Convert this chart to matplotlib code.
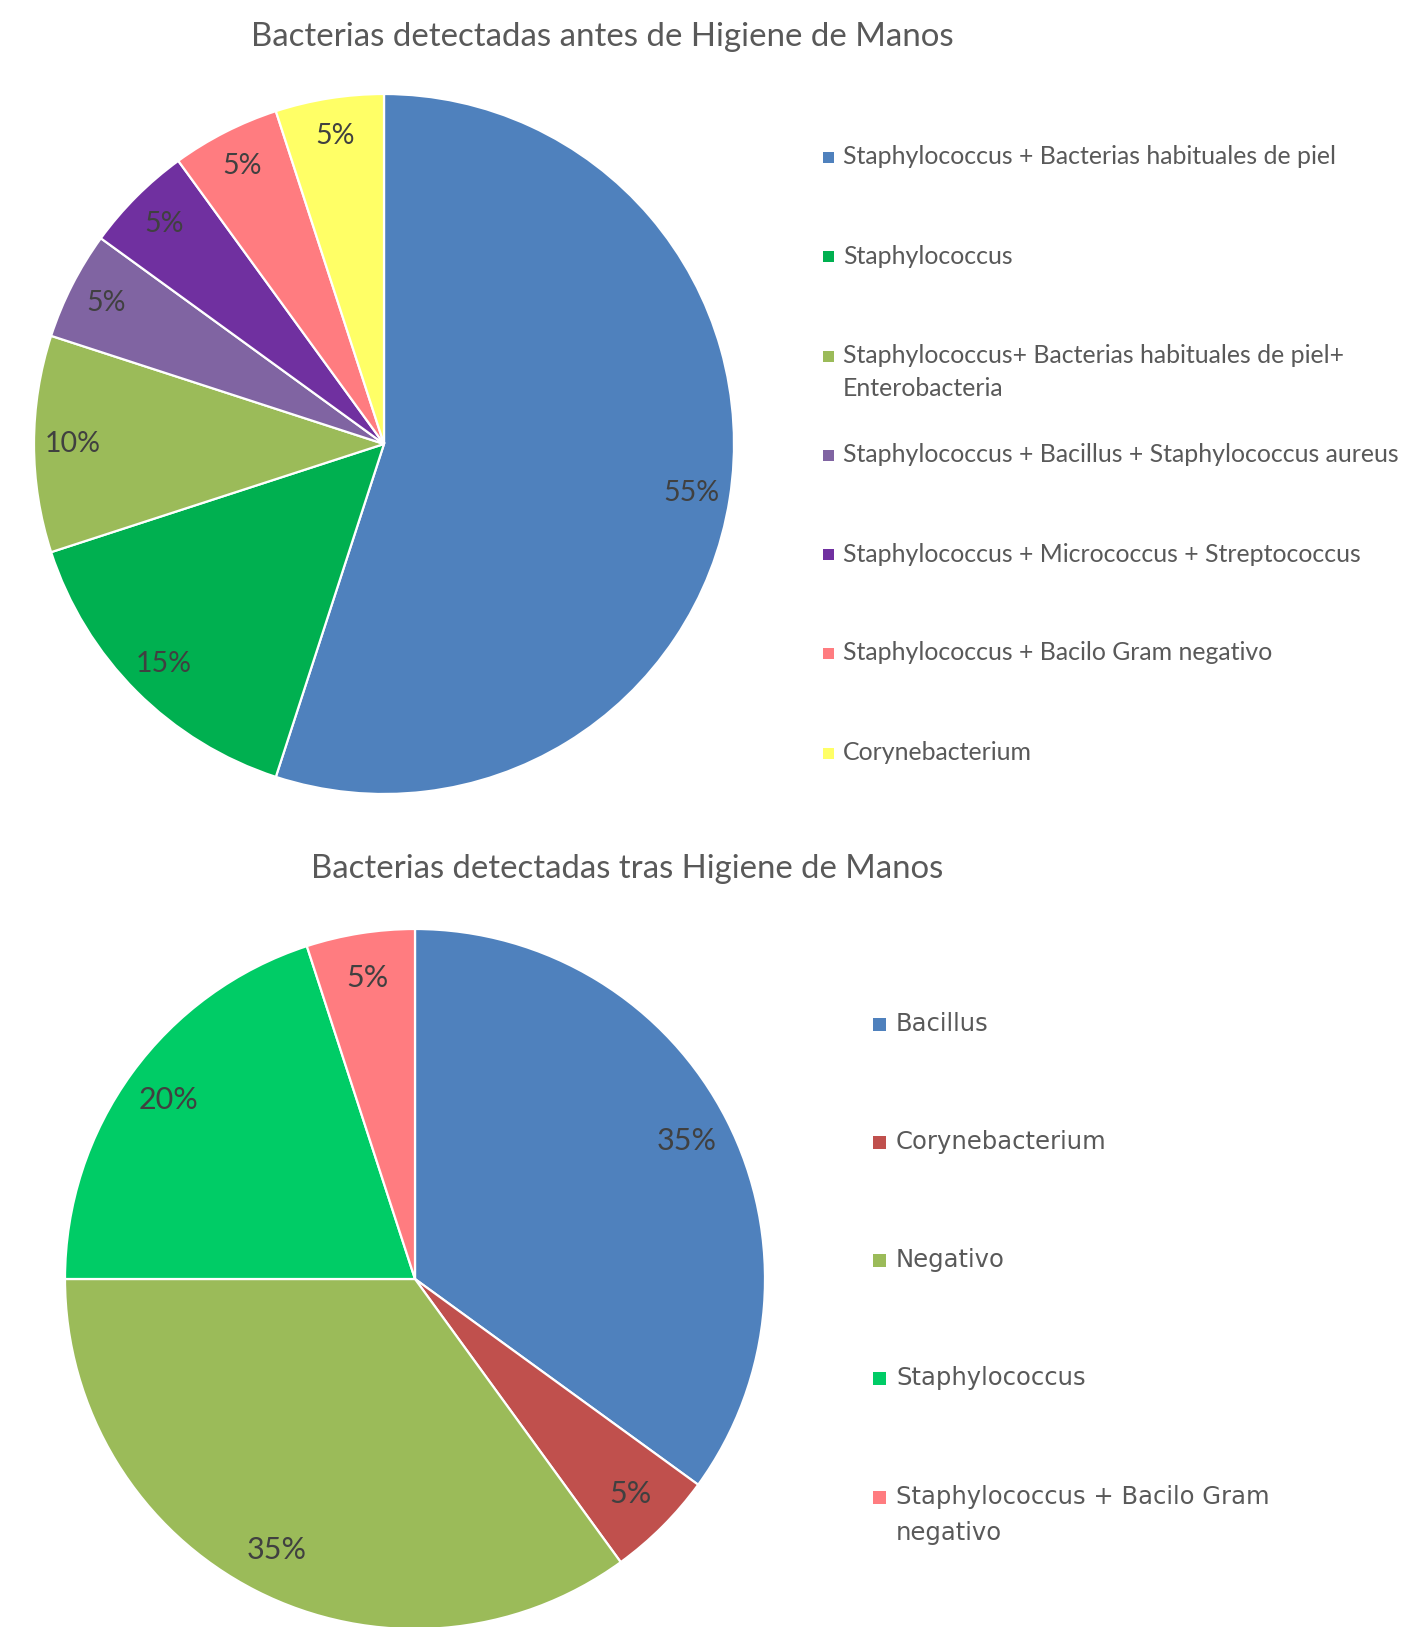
import matplotlib
matplotlib.use("Agg")
import matplotlib.pyplot as plt
from matplotlib.patches import Rectangle

# ---------------- data ----------------
title_top = "Bacterias detectadas antes de Higiene de Manos"
labels_top = [
    "Staphylococcus + Bacterias habituales de piel",
    "Staphylococcus",
    "Staphylococcus+ Bacterias habituales de piel+\nEnterobacteria",
    "Staphylococcus + Bacillus + Staphylococcus aureus",
    "Staphylococcus + Micrococcus + Streptococcus",
    "Staphylococcus + Bacilo Gram negativo",
    "Corynebacterium",
]
values_top = [55, 15, 10, 5, 5, 5, 5]
colors_top = ["#4F81BD", "#00B050", "#9BBB59", "#8064A2", "#7030A0", "#FF7C80", "#FFFF66"]

title_bot = "Bacterias detectadas tras Higiene de Manos"
labels_bot = [
    "Bacillus",
    "Corynebacterium",
    "Negativo",
    "Staphylococcus",
    "Staphylococcus + Bacilo Gram\nnegativo",
]
values_bot = [35, 5, 35, 20, 5]
colors_bot = ["#4F81BD", "#C0504D", "#9BBB59", "#00CC66", "#FF7C80"]

# ---------------- figure ----------------
W, H = 1420, 1627
DPI = 100
fig = plt.figure(figsize=(W / DPI, H / DPI), dpi=DPI)
fig.patch.set_facecolor("white")
renderer = fig.canvas.get_renderer()

TXT = "#595959"
PCT = "#404040"
CAL = ["Lato", "DejaVu Sans"]
VER = ["DejaVu Sans"]


def fx(x):
    return x / W


def fy(y):
    return 1 - y / H


def fit_text(x, y, s, target_w, family, color, ha="left", va="center", linespacing=1.2):
    t = fig.text(fx(x), fy(y), s, ha=ha, va=va, color=color, family=family,
                 fontsize=20, linespacing=linespacing)
    first = s.split("\n")[0]
    probe = fig.text(0, 0, first, family=family, fontsize=20)
    w = probe.get_window_extent(renderer=renderer).width
    probe.remove()
    t.set_fontsize(20 * target_w / w)
    return t


def draw_pie(cx, cy, r, values, colors, pctdist, pct_size):
    ax = fig.add_axes([fx(cx - r), fy(cy + r), 2 * r / W, 2 * r / H])
    ax.pie(values, colors=colors, startangle=90, counterclock=False, radius=1.0,
           autopct="%1.0f%%", pctdistance=pctdist,
           wedgeprops=dict(edgecolor="white", linewidth=1.6),
           textprops=dict(color=PCT, fontsize=pct_size, family=CAL))
    ax.set_xlim(-1, 1)
    ax.set_ylim(-1, 1)
    ax.set_aspect("auto")
    ax.axis("off")
    return ax


# ---------------- top chart ----------------
fit_text(602, 37, title_top, 704, CAL, TXT, ha="center")
draw_pie(384, 444, 350, values_top, colors_top, 0.89, 20.5)

top_rows = [157, 256, 356, 455, 554, 653, 753]
for lab, col, yy in zip(labels_top, colors_top, top_rows):
    fig.patches.append(Rectangle((fx(823), fy(yy + 6)), 11 / W, 11 / H,
                                 transform=fig.transFigure, facecolor=col, edgecolor="none"))
    if "\n" in lab:
        fig.text(fx(843), fy(yy - 12), lab, ha="left", va="top", color=TXT, family=CAL,
                 fontsize=17.9, linespacing=1.5)
    else:
        fig.text(fx(843), fy(yy), lab, ha="left", va="center", color=TXT, family=CAL,
                 fontsize=17.9)

# ---------------- bottom chart ----------------
fit_text(627, 869, title_bot, 632, CAL, TXT, ha="center")
draw_pie(415, 1279, 350, values_bot, colors_bot, 0.87, 22)

bot_rows = [1024, 1142, 1260, 1378, 1497]
for lab, col, yy in zip(labels_bot, colors_bot, bot_rows):
    fig.patches.append(Rectangle((fx(873), fy(yy + 7)), 13 / W, 13 / H,
                                 transform=fig.transFigure, facecolor=col, edgecolor="none"))
    if "\n" in lab:
        fig.text(fx(896), fy(yy - 12), lab, ha="left", va="top", color=TXT, family=VER,
                 fontsize=17.5, linespacing=1.62)
    else:
        fig.text(fx(896), fy(yy), lab, ha="left", va="center", color=TXT, family=VER,
                 fontsize=17.5)

fig.savefig("out.png", dpi=DPI, facecolor="white")
